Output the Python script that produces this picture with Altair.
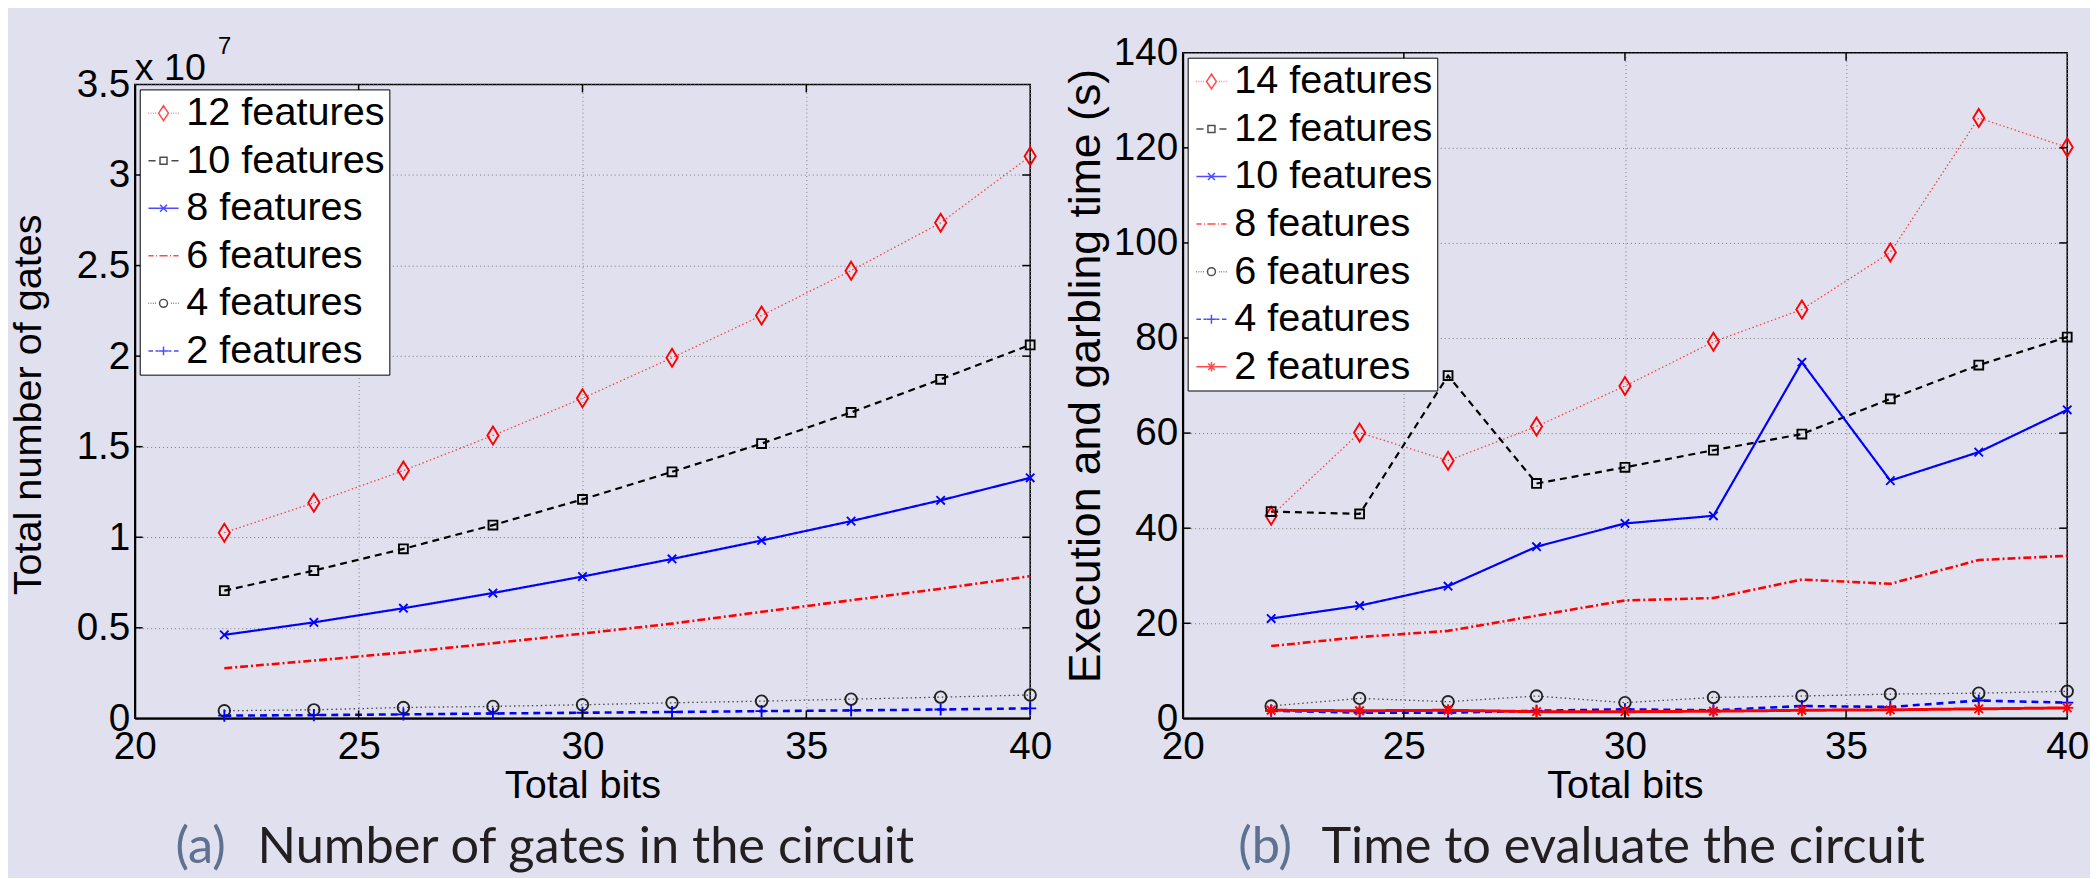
import altair as alt
import pandas as pd

# ---------------- data ----------------
bits = [22, 24, 26, 28, 30, 32, 34, 36, 38, 40]

gate_labels = ["12 features", "10 features", "8 features", "6 features", "4 features", "2 features"]
gates_12 = [1.025, 1.19, 1.368, 1.562, 1.767, 1.991, 2.224, 2.472, 2.736, 3.104]
gates_10 = [0.705, 0.816, 0.936, 1.067, 1.209, 1.361, 1.517, 1.689, 1.872, 2.062]
gates_8 = [0.461, 0.53, 0.608, 0.692, 0.783, 0.88, 0.982, 1.089, 1.204, 1.328]
gates_6 = [0.277, 0.319, 0.364, 0.415, 0.468, 0.523, 0.588, 0.652, 0.716, 0.785]
gates_4 = [0.042, 0.047, 0.06, 0.066, 0.075, 0.086, 0.095, 0.106, 0.117, 0.129]
gates_2 = [0.015, 0.018, 0.022, 0.027, 0.031, 0.035, 0.04, 0.044, 0.049, 0.055]

time_labels = ["14 features", "12 features", "10 features", "8 features", "6 features", "4 features", "2 features"]
time_14 = [42.6, 60.1, 54.2, 61.4, 69.9, 79.2, 86.0, 98.0, 126.3, 120.1]
time_12 = [43.5, 43.0, 72.1, 49.4, 52.8, 56.4, 59.8, 67.2, 74.3, 80.2]
time_10 = [21.0, 23.7, 27.8, 36.1, 41.0, 42.6, 74.9, 50.0, 56.0, 64.9]
time_8 = [15.2, 17.1, 18.4, 21.6, 24.8, 25.3, 29.2, 28.3, 33.3, 34.2]
time_6 = [2.6, 4.2, 3.5, 4.7, 3.3, 4.4, 4.7, 5.1, 5.3, 5.7]
time_4 = [1.6, 1.2, 1.2, 1.6, 1.9, 1.7, 2.6, 2.4, 3.75, 3.3]
time_2 = [1.7, 1.6, 1.7, 1.4, 1.4, 1.5, 1.7, 1.8, 2.0, 2.2]

x_ticks = [20, 25, 30, 35, 40]
gate_ticks = [0, 0.5, 1, 1.5, 2, 2.5, 3, 3.5]
time_ticks = [0, 20, 40, 60, 80, 100, 120, 140]

# ---------------- styles ----------------
FONT = "Liberation Sans"
CAP_FONT = "Lato"
BG = "#e0e0ee"
RED, BLUE, BLACK = "#ff0000", "#0000ff", "#000000"


def segs(pairs):
    return "".join(f"M{a},0L{b},0" for a, b in pairs)


DOTS = [(-0.95, -0.91), (-0.81, -0.77), (-0.67, -0.63), (-0.53, -0.49),
        (0.49, 0.53), (0.63, 0.67), (0.77, 0.81), (0.91, 0.95)]
CIRC = "M-0.25,0A0.25,0.25 0 1,0 0.25,0A0.25,0.25 0 1,0 -0.25,0Z"

STYLES = {
    "dot_diamond": dict(color=RED, dash=[1.5, 2.5], width=1.3, opacity=0.7,
                        marker="M0,-1L0.62,0L0,1L-0.62,0Z", msize=330,
                        leg=segs(DOTS) + "M0,-0.47L0.31,0L0,0.47L-0.31,0Z"),
    "dash_square": dict(color=BLACK, dash=[7, 5], width=2.2, opacity=1,
                        marker="M-1,-1L1,-1L1,1L-1,1Z", msize=80,
                        leg=segs([(-0.95, -0.5), (0.5, 0.95)]) + "M-0.22,-0.22L0.22,-0.22L0.22,0.22L-0.22,0.22Z"),
    "solid_x": dict(color=BLUE, dash=[1, 0], width=2.2, opacity=1,
                    marker="M-1,-1L1,1M-1,1L1,-1", msize=72,
                    leg=segs([(-0.95, 0.95)]) + "M-0.22,-0.22L0.22,0.22M-0.22,0.22L0.22,-0.22"),
    "dashdot": dict(color=RED, dash=[8, 3, 2, 3], width=2.6, opacity=1,
                    marker=None, msize=0,
                    leg=segs([(-0.95, -0.62), (-0.47, -0.41), (-0.26, 0.26), (0.41, 0.47), (0.62, 0.95)])),
    "dot_circle": dict(color="#222222", dash=[1.5, 3], width=1.3, opacity=0.8,
                       marker="circle", msize=135,
                       leg=segs(DOTS) + CIRC),
    "dash_plus": dict(color=BLUE, dash=[7, 5], width=2.6, opacity=1,
                      marker="M-1,0L1,0M0,-1L0,1", msize=150,
                      leg=segs([(-0.95, -0.66), (-0.5, -0.3), (0.3, 0.5), (0.66, 0.95)]) + "M-0.28,0L0.28,0M0,-0.28L0,0.28"),
    "solid_star": dict(color=RED, dash=[1, 0], width=3, opacity=1,
                       marker="M-1,0L1,0M0,-1L0,1M-0.7,-0.7L0.7,0.7M-0.7,0.7L0.7,-0.7", msize=150,
                       leg=segs([(-0.95, 0.95)]) + "M-0.3,0L0.3,0M0,-0.3L0,0.3M-0.21,-0.21L0.21,0.21M-0.21,0.21L0.21,-0.21"),
}

gate_series = [gates_12, gates_10, gates_8, gates_6, gates_4, gates_2]
gate_styles = ["dot_diamond", "dash_square", "solid_x", "dashdot", "dot_circle", "dash_plus"]
time_series = [time_14, time_12, time_10, time_8, time_6, time_4, time_2]
time_styles = ["dot_diamond", "dash_square", "solid_x", "dashdot", "dot_circle", "dash_plus", "solid_star"]


def one_row():
    return alt.Chart(pd.DataFrame({"k": [0]}))


def label_text(t, x, y, fs, font=FONT, color="black"):
    return one_row().mark_text(text=t, font=font, fontSize=fs, color=color,
                               align="left", baseline="alphabetic").encode(x=alt.value(x), y=alt.value(y))


def panel(labels, series, styles, W, H, ydom, yticks, ytitle, ytitle_size,
          ytitle_x, ytitle_y, caption_tag, caption_text, cap_x_tag, cap_x_text, cap_y):
    xs = alt.Scale(domain=[20, 40], nice=False, zero=False)
    ys = alt.Scale(domain=ydom, nice=False, zero=False)
    x_enc = alt.X("bits:Q", scale=xs,
                  axis=alt.Axis(values=x_ticks, labelExpr="'' + datum.value", title="Total bits",
                                titleFontSize=40, titleY=48, titleBaseline="top", labelPadding=10))
    y_enc = alt.Y("value:Q", scale=ys,
                  axis=alt.Axis(values=yticks, labelExpr="'' + datum.value", title=ytitle,
                                titleFontSize=ytitle_size, titleX=ytitle_x, titleY=ytitle_y,
                                titleBaseline="bottom", labelPadding=5))
    layers = []
    frames = []
    for lab, vals, st in zip(labels, series, styles):
        s = STYLES[st]
        d = pd.DataFrame({"bits": bits, "value": vals, "series": lab})
        frames.append(d)
        layers.append(alt.Chart(d).mark_line(color=s["color"], strokeDash=s["dash"],
                                              strokeWidth=s["width"], opacity=s["opacity"])
                      .encode(x=x_enc, y=y_enc))
    for lab, vals, st, d in zip(labels, series, styles, frames):
        s = STYLES[st]
        if s["marker"] is None:
            continue
        layers.append(alt.Chart(d).mark_point(shape=s["marker"], size=s["msize"], color=s["color"],
                                               filled=False, strokeWidth=1.9, opacity=1)
                      .encode(x=x_enc, y=y_enc))
    # inward ticks (MATLAB style)
    xt = pd.DataFrame({"bits": x_ticks[1:-1]})
    yt = pd.DataFrame({"value": yticks[1:-1]})
    layers.append(alt.Chart(xt).mark_rule(color="black", strokeWidth=1.5).encode(
        x=x_enc, y=alt.value(H), y2=alt.value(H - 8)))
    layers.append(alt.Chart(xt).mark_rule(color="black", strokeWidth=1.5).encode(
        x=x_enc, y=alt.value(0), y2=alt.value(8)))
    layers.append(alt.Chart(yt).mark_rule(color="black", strokeWidth=1.5).encode(
        y=y_enc, x=alt.value(0), x2=alt.value(8)))
    layers.append(alt.Chart(yt).mark_rule(color="black", strokeWidth=1.5).encode(
        y=y_enc, x=alt.value(W), x2=alt.value(W - 8)))
    # legend proxy (no visible marks, only drives the legend)
    all_df = pd.concat(frames)
    colors = [STYLES[s]["color"] if STYLES[s]["color"] != "#222222" else BLACK for s in styles]
    legpaths = [STYLES[s]["leg"] for s in styles]
    layers.append(alt.Chart(all_df).transform_filter("false").mark_point(filled=False).encode(
        x=x_enc, y=y_enc,
        color=alt.Color("series:N", scale=alt.Scale(domain=labels, range=colors), legend=alt.Legend(title=None)),
        shape=alt.Shape("series:N", scale=alt.Scale(domain=labels, range=legpaths), legend=alt.Legend(title=None)),
    ))
    # captions
    layers.append(label_text(caption_tag, cap_x_tag, cap_y, 51, CAP_FONT, "#5d7190"))
    layers.append(label_text(caption_text, cap_x_text, cap_y, 51, CAP_FONT, "#231f20"))
    return alt.layer(*layers).properties(width=W, height=H)


left_panel = panel(gate_labels, gate_series, gate_styles, 904, 640, [0, 3.5], gate_ticks,
                   "Total number of gates", 40, -87, 323, "(a)", "Number of gates in the circuit", 41, 124, 786)
# exponent annotation above panel (a), in a stroke-less strip that also offsets the panel
exponent = alt.layer(
    label_text("x 10", 0, 28, 38),
    label_text("7", 84, 1, 24),
).properties(width=904, height=32, view=alt.ViewBackground(stroke=None))
left = alt.vconcat(exponent, left_panel, spacing=0, bounds="flush").resolve_scale(
    color="independent", shape="independent"
).resolve_legend(
    color="independent", shape="independent"
)

right = panel(time_labels, time_series, time_styles, 893, 672, [0, 140], time_ticks,
              "Execution and garbling time (s)", 45, -75, 326, "(b)", "Time to evaluate the circuit", 56, 140, 818)

chart = alt.hconcat(left, right, spacing=10).resolve_scale(
    color="independent", shape="independent"
).resolve_legend(
    color="independent", shape="independent"
).properties(
    background=BG,
    padding={"left": 0, "top": 21, "right": 0, "bottom": 0},
).configure_axis(
    labelFont=FONT, labelFontSize=39, labelColor="black", labelFlush=False, labelOverlap=False,
    titleFont=FONT, titleColor="black", titleFontWeight="normal",
    grid=True, gridDash=[1, 3], gridColor="#7a7a7a", gridWidth=1,
    domain=True, domainColor="black", domainWidth=2, ticks=False,
).configure_view(
    stroke="black", strokeWidth=1.5,
).configure_legend(
    orient="top-left", offset=5, fillColor="white", strokeColor="black", padding=4,
    symbolSize=1024, symbolStrokeWidth=1.5, labelFont=FONT, labelFontSize=40, labelOffset=3,
    rowPadding=8, labelLimit=0, labelColor="black", cornerRadius=0,
)

chart.save("out.html", embed_options={"renderer": "svg", "actions": False})
